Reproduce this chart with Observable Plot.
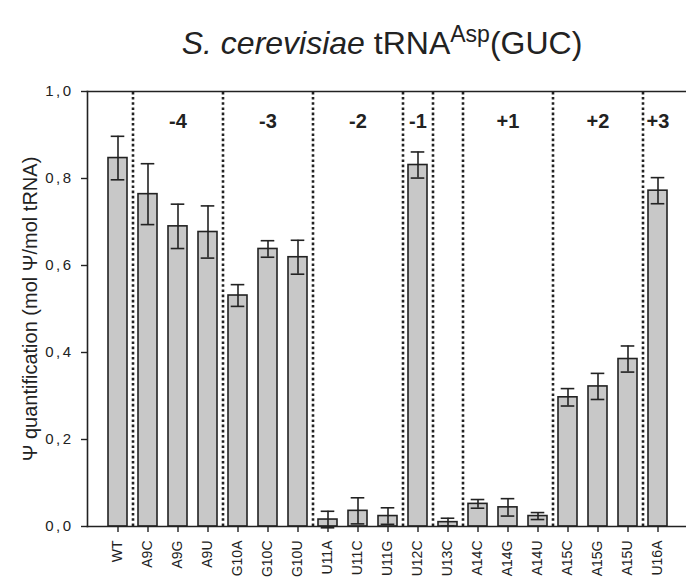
<!DOCTYPE html>
<html>
<head>
<meta charset="utf-8">
<script src="https://cdn.jsdelivr.net/npm/d3@7"></script>
<script src="https://cdn.jsdelivr.net/npm/@observablehq/plot@0.6"></script>
<style>
  html, body { margin: 0; padding: 0; background: #fff; }
  #title { height: 80px; width: 686px; position: relative; font-family: "Liberation Sans", Arial, sans-serif; color: #222; }
  #title .t { position: absolute; left: 0; width: 764px; top: 23px; text-align: center; font-size: 32px; line-height: 40px; }
  #title sup { font-size: 23px; vertical-align: 0; position: relative; top: -12px; }
  svg { display: block; }
</style>
</head>
<body>
<div id="title"><div class="t"><i>S. cerevisiae</i> tRNA<sup>Asp</sup>(GUC)</div></div>
<div id="chart"></div>
<script>
const categories = ["WT","A9C","A9G","A9U","G10A","G10C","G10U","U11A","U11C","U11G","U12C","U13C","A14C","A14G","A14U","A15C","A15G","A15U","U16A"];
const values = [0.847,0.764,0.690,0.677,0.531,0.638,0.619,0.016,0.036,0.024,0.831,0.010,0.052,0.044,0.024,0.297,0.322,0.385,0.772];
const errors = [0.050,0.070,0.051,0.060,0.025,0.019,0.039,0.019,0.030,0.019,0.030,0.009,0.010,0.020,0.008,0.020,0.030,0.030,0.030];
const groupLabels = ["-4","-3","-2","-1","+1","+2","+3"];
const groupCenters = ["A9G","G10C","U11C","U12C","A14G","A15G","U16A"];
const separatorsAfter = ["WT","A9U","G10U","U11G","U12C","U13C","A14U","A15U"];
const yTicks = [0,0.2,0.4,0.6,0.8,1.0];
const yLabel = "\u03A8 quantification (mol \u03A8/mol tRNA)";

const data = categories.map((name, i) => ({name, value: values[i], err: errors[i]}));
const groups = groupLabels.map((label, i) => ({label, at: groupCenters[i]}));
const ink = "#222";
const font = "Liberation Sans, Arial, sans-serif";

const chart = Plot.plot({
  width: 686,
  height: 500,
  marginLeft: 87,
  marginRight: 0,
  marginTop: 11,
  marginBottom: 54,
  style: {fontFamily: font, color: ink, background: "#fff", overflow: "visible"},
  x: {type: "band", domain: categories, range: [102, 672], paddingInner: 0.37, paddingOuter: 0.185},
  y: {domain: [0, 1]},
  marks: [
    Plot.ruleX(separatorsAfter, {x: d => d, dx: 15, y1: 0, y2: 1, stroke: ink, strokeWidth: 2.6, strokeDasharray: "2.6,2.6"}),
    Plot.barY(data, {x: "name", y: "value", fill: "#c8c8c8", stroke: ink, strokeWidth: 1.6}),
    Plot.ruleX(data, {x: "name", y1: d => d.value - d.err, y2: d => d.value + d.err, stroke: ink, strokeWidth: 1.6}),
    Plot.tickY(data, {x: "name", y: d => d.value + d.err, stroke: ink, strokeWidth: 1.6, insetLeft: 2.7, insetRight: 2.7}),
    Plot.tickY(data, {x: "name", y: d => d.value - d.err, stroke: ink, strokeWidth: 1.6, insetLeft: 2.7, insetRight: 2.7}),
    Plot.text(groups, {x: "at", y: 0.93, text: "label", fontSize: 20, fontWeight: "bold", fill: ink, fontFamily: font}),
    Plot.frame({anchor: "top", stroke: ink, strokeWidth: 1.6}),
    Plot.frame({anchor: "bottom", stroke: ink, strokeWidth: 1.6}),
    Plot.frame({anchor: "left", stroke: ink, strokeWidth: 1.6}),
    Plot.axisY({ticks: yTicks, tickFormat: d => d3.format(".1f")(d).replace(".", ","), tickSize: 6, tickPadding: 8, fontSize: 15, label: null, stroke: ink, strokeWidth: 1.4}),
    Plot.axisX({tickSize: 6, tickPadding: 8, tickRotate: -90, fontSize: 14, label: null, stroke: ink, strokeWidth: 1.4}),
    Plot.text([yLabel], {frameAnchor: "left", dx: -57, rotate: -90, textAnchor: "middle", fontSize: 20, fill: ink, fontFamily: font})
  ]
});
d3.select(chart).selectAll('[aria-label="y-axis tick label"] text').attr("letter-spacing", "2.5px");
document.getElementById("chart").appendChild(chart);
</script>
</body>
</html>
